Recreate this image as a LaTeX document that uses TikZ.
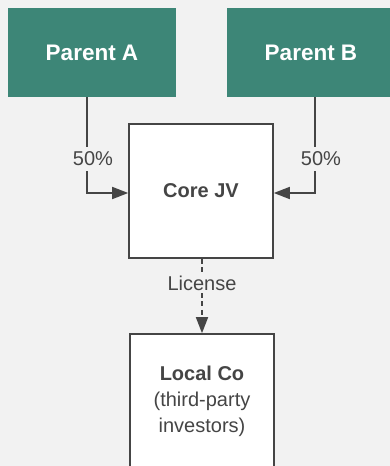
\documentclass[tikz,border=0pt]{standalone}
\usepackage{fontspec}
\setmainfont{Liberation Sans}
\usetikzlibrary{arrows.meta}
\definecolor{bgc}{HTML}{F2F2F2}
\definecolor{teal}{HTML}{3D8677}
\definecolor{ink}{HTML}{454545}
\begin{document}
\begin{tikzpicture}[x=1pt,y=-1pt,
  parent/.style={fill=teal,draw=none,minimum width=168pt,minimum height=89pt,
    text=white,font=\fontsize{22.5}{26}\selectfont\bfseries,inner sep=0pt},
  entity/.style={fill=white,draw=ink,line width=1.6pt,minimum width=144pt,
    minimum height=134pt,text=ink,font=\fontsize{20}{26}\selectfont,
    align=center,inner sep=0pt},
  link/.style={draw=ink,line width=1.6pt,-{Triangle[length=16pt,width=12pt]}},
  tag/.style={fill=bgc,text=ink,font=\fontsize{20}{24}\selectfont,
    inner xsep=2pt,inner ysep=5pt}]
\clip (0,0) rectangle (390,466);
\fill[bgc] (0,0) rectangle (390,466);
\node[parent] (pa) at (92,52.5) {Parent A};
\node[parent] (pb) at (311,52.5) {Parent B};
\node[entity] (jv) at (201,191) {\textbf{Core JV}};
\node[entity] (lc) at (202,401) {\textbf{Local Co}\\(third-party\\investors)};
\coordinate (ja) at (87,193);
\coordinate (jb) at (315,193);
\draw[link] (pa.south -| ja) -- (ja) -- (ja -| jv.west);
\draw[link] (pb.south -| jb) -- (jb) -- (jb -| jv.east);
\node[tag] (sa) at (93,159) {50\%};
\node[tag] (sb) at (321,159) {50\%};
\draw[link,dash pattern=on 5pt off 3.5pt] (jv.south -| lc.north) -- (lc.north);
\node[tag,inner ysep=3pt] (lic) at (202,283) {License};
\end{tikzpicture}
\end{document}
